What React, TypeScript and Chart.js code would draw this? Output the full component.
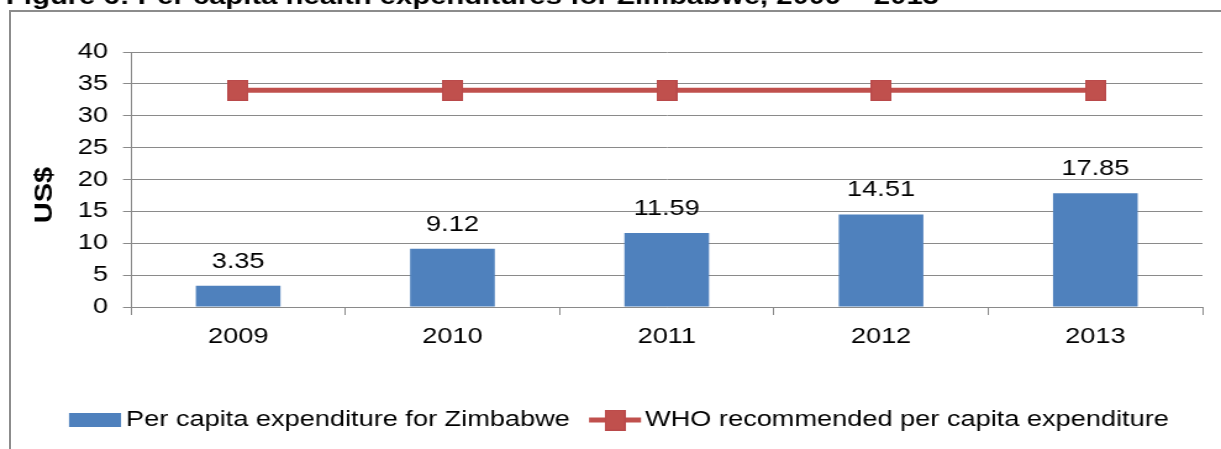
import React, { useEffect, useRef } from "react";
import { Chart, registerables } from "chart.js";

Chart.register(...registerables);

// ---- data ----
const categories = ["2009", "2010", "2011", "2012", "2013"];
const zimbabweValues = [3.35, 9.12, 11.59, 14.51, 17.85];
const whoValues = [34, 34, 34, 34, 34];
const seriesNames = [
  "Per capita expenditure for Zimbabwe",
  "WHO recommended per capita expenditure",
];
const yMin = 0;
const yMax = 40;
const yStep = 5;
const titleText = "Figure 6: Per capita health expenditures for Zimbabwe, 2009 – 2013";
const yAxisTitle = "US$";

// ---- layout / style ----
const VIEW_W = 1221;
const VIEW_H = 449;
const STRETCH = 1.235;
const INNER_W = Math.round(VIEW_W / STRETCH);
const SX = VIEW_W / INNER_W;
const ix = (v: number) => v / SX;

const FONT = "'Liberation Sans', Arial, sans-serif";
const BLUE = "#4F81BD";
const RED = "#C0504D";
const GRID = "#8a8a8a";
const X_AXIS_H = 60;

function makeMarker(): HTMLCanvasElement {
  const c = document.createElement("canvas");
  c.width = Math.round(ix(20.5));
  c.height = 21;
  const g = c.getContext("2d")!;
  g.fillStyle = RED;
  g.fillRect(0, 0, c.width, c.height);
  g.strokeStyle = "#B9494A";
  g.lineWidth = 1;
  g.strokeRect(0.5, 0.5, c.width - 1, c.height - 1);
  return c;
}

export default function App() {
  const ref = useRef<HTMLCanvasElement | null>(null);

  useEffect(() => {
    const canvas = ref.current;
    if (!canvas) return;
    const marker = makeMarker();

    const valueLabels = {
      id: "valueLabels",
      afterDatasetsDraw(chart: any) {
        const ctx = chart.ctx;
        const meta = chart.getDatasetMeta(1);
        ctx.save();
        ctx.font = `22px ${FONT}`;
        ctx.fillStyle = "#000";
        ctx.textAlign = "center";
        ctx.textBaseline = "alphabetic";
        meta.data.forEach((el: any, i: number) => {
          ctx.fillText(zimbabweValues[i].toFixed(2), el.x, el.y - 18);
        });
        ctx.restore();
      },
    };

    const decor = {
      id: "decor",
      afterDraw(chart: any) {
        const ctx = chart.ctx;
        ctx.save();
        // figure title (partly cut off at top)
        ctx.font = `bold 23.7px ${FONT}`;
        ctx.fillStyle = "#000";
        ctx.textAlign = "left";
        ctx.textBaseline = "alphabetic";
        ctx.fillText(titleText, ix(6), 4);

        // y axis title
        ctx.save();
        ctx.translate(ix(45), 195);
        ctx.scale(0.7, 1);
        ctx.rotate(-Math.PI / 2);
        ctx.font = `bold 29px ${FONT}`;
        ctx.textAlign = "center";
        ctx.textBaseline = "middle";
        ctx.fillText(yAxisTitle, 0, 0);
        ctx.restore();

        // legend
        const ly = 420;
        ctx.fillStyle = BLUE;
        ctx.fillRect(ix(69), 413, ix(121) - ix(69), 14);
        ctx.fillStyle = "#000";
        ctx.font = `22px ${FONT}`;
        ctx.textBaseline = "middle";
        ctx.fillText(seriesNames[0], ix(126), ly);

        ctx.strokeStyle = RED;
        ctx.lineWidth = 5;
        ctx.beginPath();
        ctx.moveTo(ix(589), ly);
        ctx.lineTo(ix(641), ly);
        ctx.stroke();
        ctx.drawImage(marker, ix(615) - marker.width / 2, ly - marker.height / 2);
        ctx.fillStyle = "#000";
        ctx.fillText(seriesNames[1], ix(645), ly);
        ctx.restore();
      },
    };

    const chart = new Chart(canvas, {
      type: "bar",
      data: {
        labels: categories,
        datasets: [
          {
            type: "line",
            label: seriesNames[1],
            data: whoValues,
            borderColor: RED,
            backgroundColor: RED,
            borderWidth: 5,
            pointStyle: marker as any,
            pointRadius: 10,
            pointHoverRadius: 10,
            fill: false,
            order: 0,
          } as any,
          {
            type: "bar",
            label: seriesNames[0],
            data: zimbabweValues,
            backgroundColor: BLUE,
            barPercentage: 0.395,
            categoryPercentage: 1,
            order: 1,
          },
        ],
      },
      options: {
        responsive: false,
        maintainAspectRatio: false,
        animation: false,
        devicePixelRatio: 1,
        events: [],
        layout: {
          padding: {
            left: 0,
            right: INNER_W - ix(1206),
            top: 52,
            bottom: VIEW_H - 307 - X_AXIS_H,
          },
        },
        plugins: {
          legend: { display: false },
          tooltip: { enabled: false },
          title: { display: false },
        },
        scales: {
          x: {
            offset: true,
            grid: {
              display: true,
              offset: true,
              drawOnChartArea: false,
              drawTicks: true,
              tickLength: 8,
              color: GRID,
            },
            border: { display: true, color: GRID, width: 1 },
            ticks: {
              color: "#000",
              font: { family: FONT, size: 22 },
              padding: 8.8,
              maxRotation: 0,
              autoSkip: false,
            },
            afterFit: (s: any) => {
              s.height = X_AXIS_H;
            },
          },
          y: {
            min: yMin,
            max: yMax,
            grid: {
              color: GRID,
              drawTicks: true,
              tickLength: ix(8),
            },
            border: { display: true, color: GRID, width: 1 },
            ticks: {
              stepSize: yStep,
              color: "#000",
              font: { family: FONT, size: 22 },
              padding: ix(15),
            },
            afterFit: (s: any) => {
              s.width = ix(131);
            },
          },
        },
      },
      plugins: [valueLabels, decor],
    });

    return () => {
      chart.destroy();
    };
  }, []);

  return (
    <div
      style={{
        position: "fixed",
        left: 0,
        top: 0,
        width: VIEW_W,
        height: VIEW_H,
        overflow: "hidden",
        background: "#fff",
      }}
    >
      <div
        style={{
          position: "absolute",
          left: 9,
          top: 10,
          width: 1400,
          height: 700,
          borderLeft: "2px solid #8c8c8c",
          borderTop: "2px solid #8c8c8c",
        }}
      />
      <canvas
        ref={ref}
        width={INNER_W}
        height={VIEW_H}
        style={{
          position: "absolute",
          left: 0,
          top: 0,
          width: VIEW_W + "px",
          height: VIEW_H + "px",
        }}
      />
    </div>
  );
}
